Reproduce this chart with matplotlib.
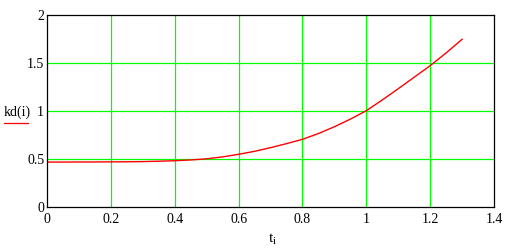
import matplotlib

matplotlib.use('Agg')

import matplotlib.pyplot as plt

# значения
t = [0.0, 0.05, 0.1, 0.15, 0.2, 0.25, 0.3, 0.35, 0.4, 0.45, 0.5, 0.55, 0.6,
     0.65, 0.7, 0.75, 0.8, 0.85, 0.9, 0.95, 1.0, 1.05, 1.1, 1.15, 1.2,
     1.25, 1.3]
kd = [0.468, 0.468, 0.469, 0.469, 0.470, 0.471, 0.473, 0.477, 0.482,
      0.490, 0.502, 0.522, 0.549, 0.580, 0.618, 0.660, 0.705, 0.765,
      0.836, 0.915, 1.003, 1.115, 1.232, 1.352, 1.472, 1.605, 1.747]

x_ticks = [0, 0.2, 0.4, 0.6, 0.8, 1, 1.2, 1.4]
x_labels = ['0', '0.2', '0.4', '0.6', '0.8', '1', '1.2', '1.4']
y_ticks = [0, 0.5, 1, 1.5, 2]
y_labels = ['0', '0.5', '1', '1.5', '2']

plt.rcParams['font.family'] = ['Liberation Serif', 'DejaVu Serif']

fig = plt.figure(figsize=(5.11, 2.49), dpi=100)
ax = fig.add_axes([47 / 511, 1 - 207 / 249, 447 / 511, 192 / 249])

for x in x_ticks[1:-1]:
    ax.axvline(x, color='#00ff00', lw=0.9, zorder=1)
for y in y_ticks[1:-1]:
    ax.axhline(y, color='#00ff00', lw=0.9, zorder=1)

ax.plot(t, kd, color='#ff0000', lw=1.0, zorder=2)

ax.set_xlim(0, 1.4)
ax.set_ylim(0, 2)
ax.set_xticks(x_ticks)
ax.set_xticklabels(x_labels)
ax.set_yticks(y_ticks)
ax.set_yticklabels(y_labels)
ax.tick_params(axis='x', length=0, labelsize=10, pad=4)
ax.tick_params(axis='y', length=0, labelsize=10, pad=2)
for s in ax.spines.values():
    s.set_linewidth(0.9)
    s.set_color('black')

fig.text(17 / 511, 1 - 112 / 249, 'kd(i)', fontsize=10, ha='center', va='center')
fig.add_artist(plt.Line2D([4 / 511, 28 / 511], [1 - 123 / 249, 1 - 123 / 249],
                          color='#ff0000', lw=0.9))
fig.text(273 / 511, 1 - 239 / 249, r'$\mathregular{t_i}$', fontsize=11,
         ha='center', va='center')

fig.savefig('out.png', dpi=100)
